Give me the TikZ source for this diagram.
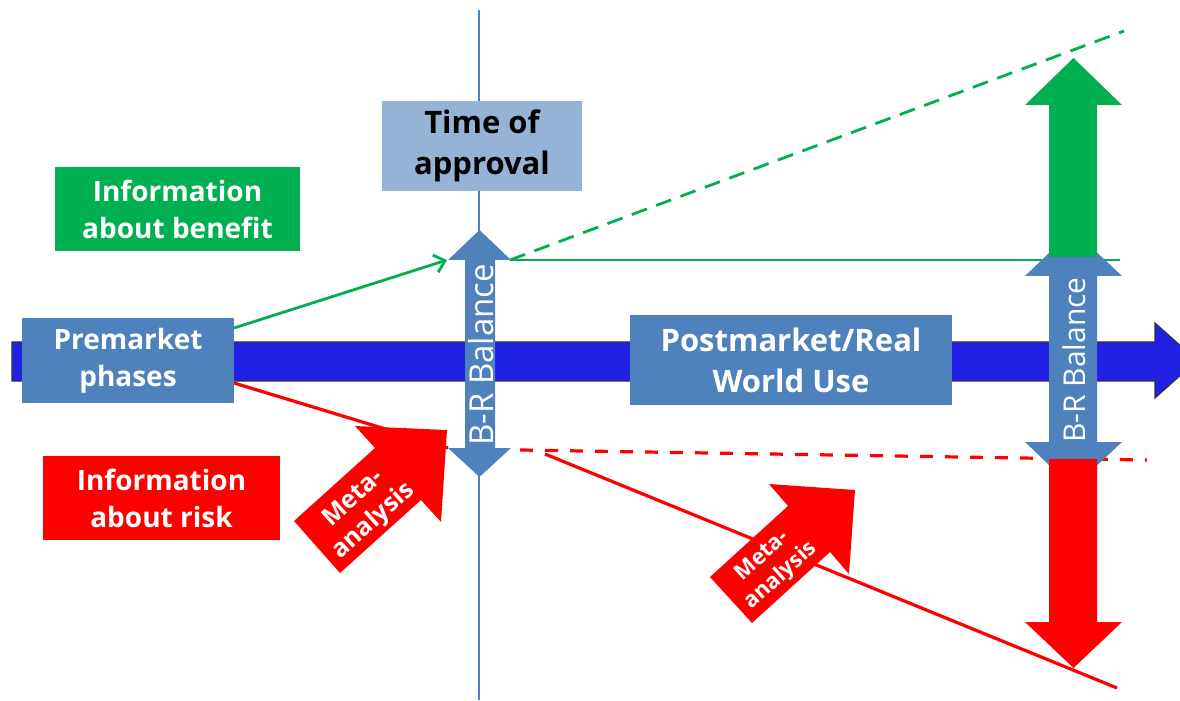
\documentclass[tikz,border=0pt]{standalone}
\usepackage{fontspec}
\setmainfont{Open Sans}
\usetikzlibrary{arrows.meta}
\definecolor{bgreen}{HTML}{00B050}
\definecolor{bred}{HTML}{FF0000}
\definecolor{boxblue}{HTML}{4F81BD}
\definecolor{lightblue}{HTML}{95B3D7}
\definecolor{mainblue}{HTML}{2121E6}
\tikzset{
  box/.style={draw=none, inner sep=0pt, align=center, font=\bfseries\fontsize{14}{18.5}\selectfont},
  bigbox/.style={box, font=\bfseries\fontsize{15.5}{20.5}\selectfont},
  brtext/.style={rotate=90, text=white, inner sep=0pt},
  metatext/.style={text=white, align=center, inner sep=0pt},
  gline/.style={draw=bgreen, line width=1.4pt},
  rline/.style={draw=bred, line width=1.6pt},
  gdash/.style={gline, dash pattern=on 8pt off 5pt},
  rdash/.style={rline, dash pattern=on 6.5pt off 6pt},
}
\begin{document}
\begin{tikzpicture}[x=0.5pt,y=-0.5pt]
\useasboundingbox (0,0) rectangle (1180,701);
% time axis line
\coordinate (vtop) at (479,10);
\coordinate (vbot) at (479,700);
\draw[boxblue, line width=0.6pt] (vtop) -- (vbot);
% main blue arrow
\fill[mainblue, draw=black!80, line width=0.6pt]
  (12,342) -- (1155,342) -- (1155,323) -- (1197,360.5) -- (1155,398) -- (1155,381) -- (12,381) -- cycle;
% boxes
\node[box, fill=boxblue, text=white, minimum width=106pt, minimum height=42.5pt] (pre) at (128,360.5) {Premarket\\phases};
\node[bigbox, fill=lightblue, text=black, minimum width=100pt, minimum height=45pt] (toa) at (482,146) {Time of\\approval};
\node[box, fill=bgreen, text=white, minimum width=122.5pt, minimum height=42pt] (ben) at (177.5,209) {Information\\about benefit};
\node[box, fill=bred, text=white, minimum width=118.5pt, minimum height=42pt] (risk) at (161.5,498) {Information\\about risk};
\node[bigbox, fill=boxblue, text=white, minimum width=161pt, minimum height=45pt] (post) at (791,360) {Postmarket/Real\\World Use};
% connector coordinates
\coordinate (g0) at (234,328);
\coordinate (g1) at (447,260);
\coordinate (g2) at (510,260);
\coordinate (g3) at (1120,260);
\coordinate (g4) at (1124,31);
\coordinate (r0) at (234,383);
\coordinate (r1) at (448,448);
\coordinate (r2) at (520,450);
\coordinate (r3) at (1147,460);
\coordinate (r4) at (545,454);
\coordinate (r5) at (1117,688);
% green lines
\draw[gline, -{Straight Barb[length=5pt,width=9pt]}] (g0) -- (g1);
\draw[gline] (g2) -- (g3);
\draw[gdash] (g2) -- (g4);
% red lines
\draw[rline] (r0) -- (r1);
\draw[rdash] (r2) -- (r3);
\draw[rline] (r4) -- (r5);
% left B-R balance double arrow
\fill[boxblue] (479.5,230) -- (511,260) -- (495,260) -- (495,448) -- (511,448) -- (479.5,477)
  -- (448,448) -- (465,448) -- (465,260) -- (448,260) -- cycle;
\node[brtext, font=\fontsize{16.5}{19}\selectfont] (brl) at (481,355) {B-R Balance};
% right B-R balance double arrow
\fill[boxblue] (1073,230) -- (1122,276) -- (1097,276) -- (1097,442) -- (1122,442) -- (1073,488)
  -- (1025,442) -- (1049,442) -- (1049,276) -- (1025,276) -- cycle;
\node[brtext, font=\fontsize{15}{18}\selectfont] (brr) at (1074,360) {B-R Balance};
% green up arrow
\fill[bgreen] (1049,257) -- (1049,105) -- (1025,105) -- (1073.5,58) -- (1122,105) -- (1097,105) -- (1097,257) -- cycle;
% red down arrow
\fill[bred] (1049,459) -- (1049,622) -- (1025,622) -- (1073.5,668) -- (1122,622) -- (1097,622) -- (1097,459) -- cycle;
% meta-analysis arrow 1
\fill[bred] (294,521) -- (375,448) -- (355,426) -- (447,430) -- (441,522) -- (421,500) -- (340,573) -- cycle;
\node[metatext, rotate=42, font=\bfseries\fontsize{12.5}{15}\selectfont] (meta1) at (364,510) {Meta-\\analysis};
% meta-analysis arrow 2
\fill[bred] (710,577) -- (788,506) -- (769,484) -- (855,490) -- (849,574) -- (830,552) -- (752,623) -- cycle;
\node[metatext, rotate=42, font=\bfseries\fontsize{11}{13.5}\selectfont] (meta2) at (772,566) {Meta-\\analysis};
\end{tikzpicture}
\end{document}
